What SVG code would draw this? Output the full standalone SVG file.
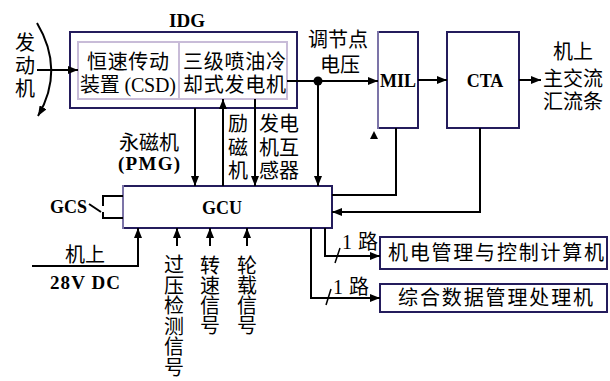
<svg xmlns="http://www.w3.org/2000/svg" width="610" height="381" viewBox="0 0 610 381">
<style>
.box{fill:#fff;stroke:#241c5c;stroke-width:2}
.inner{fill:none;stroke:#c8bcd8;stroke-width:2}
.ln{fill:none;stroke:#000;stroke-width:2}
.cj{font-family:"Liberation Serif","Noto Sans CJK SC",serif;font-size:20px;fill:#000}
.lt{font-family:"Liberation Serif",serif;font-size:18px;font-weight:bold;fill:#000}
.mid{text-anchor:middle}
</style>
<defs>
<marker id="ah" viewBox="0 0 10 8" refX="10" refY="4" markerWidth="10" markerHeight="8" markerUnits="userSpaceOnUse" orient="auto">
<path d="M0,0 L10,4 L0,8 Z" fill="#000"/>
</marker>
</defs>

<g id="IDG">
<rect class="box" x="70" y="32" width="227" height="76"/>
<rect class="inner" x="78" y="42" width="209" height="57"/>
<line x1="179" y1="42" x2="179" y2="99" stroke="#c8bcd8" stroke-width="2"/>
<text class="lt mid" x="187" y="27" style="font-size:19px">IDG</text>
<text class="cj" x="87" y="69" textLength="82">恒速传动</text>
<text class="cj" x="80" y="92" textLength="96">装置 (CSD)</text>
<text class="cj" x="183" y="69" textLength="103">三级喷油冷</text>
<text class="cj" x="183" y="92" textLength="103">却式发电机</text>
</g>

<g id="MIL">
<rect class="box" x="378" y="32" width="40" height="96"/>
<line x1="378" y1="31" x2="378" y2="129" stroke="#7c74a8" stroke-width="2"/>
<text class="lt mid" x="398" y="87">MIL</text>
</g>

<g id="CTA">
<rect class="box" x="447" y="32" width="72" height="96"/>
<text class="lt mid" x="485" y="87">CTA</text>
</g>

<g id="GCU">
<rect class="box" x="123" y="186" width="209" height="42"/>
<line x1="123" y1="185" x2="123" y2="229" stroke="#7c74a8" stroke-width="2"/>
<text class="lt mid" x="222" y="214">GCU</text>
</g>

<g id="EMCC">
<rect class="box" x="380" y="237" width="227" height="32"/>
<text class="cj" x="388" y="260" textLength="216">机电管理与控制计算机</text>
</g>

<g id="IDMP">
<rect class="box" x="380" y="284" width="227" height="28"/>
<text class="cj" x="398" y="305" textLength="195">综合数据管理处理机</text>
</g>

<g id="labels">
<text class="cj mid" x="25" y="50">发</text>
<text class="cj mid" x="25" y="73">动</text>
<text class="cj mid" x="25" y="96">机</text>
<text class="cj mid" x="338" y="47">调节点</text>
<text class="cj mid" x="340" y="72">电压</text>
<text class="cj mid" x="573" y="59">机上</text>
<text class="cj mid" x="573" y="86">主交流</text>
<text class="cj mid" x="573" y="109">汇流条</text>
<text class="cj mid" x="149" y="150">永磁机</text>
<text class="lt" x="118" y="170" textLength="62" style="font-size:19px">(PMG)</text>
<text class="cj mid" x="238" y="131">励</text>
<text class="cj mid" x="238" y="155">磁</text>
<text class="cj mid" x="238" y="178">机</text>
<text class="cj mid" x="279" y="131">发电</text>
<text class="cj mid" x="279" y="155">机互</text>
<text class="cj mid" x="279" y="178">感器</text>
<text class="lt" x="50" y="213" textLength="37">GCS</text>
<text class="cj mid" x="85" y="262">机上</text>
<text class="lt" x="50" y="289" textLength="70" style="font-size:19px">28V DC</text>
<text class="cj mid" x="174" y="272">过</text>
<text class="cj mid" x="174" y="293">压</text>
<text class="cj mid" x="174" y="313">检</text>
<text class="cj mid" x="174" y="334">测</text>
<text class="cj mid" x="174" y="354">信</text>
<text class="cj mid" x="174" y="375">号</text>
<text class="cj mid" x="210" y="273">转</text>
<text class="cj mid" x="210" y="293">速</text>
<text class="cj mid" x="210" y="313">信</text>
<text class="cj mid" x="210" y="333">号</text>
<text class="cj mid" x="247" y="273">轮</text>
<text class="cj mid" x="247" y="293">载</text>
<text class="cj mid" x="247" y="313">信</text>
<text class="cj mid" x="247" y="333">号</text>
<text class="cj" x="342" y="249" textLength="36">1 路</text>
<text class="cj" x="333" y="294" textLength="36">1 路</text>
</g>

<g id="connectors">
<path class="ln" d="M37,23 Q65,70 38,116" stroke-width="1.5" marker-end="url(#ah)"/>
<line class="ln" x1="37" y1="70" x2="78" y2="70" marker-end="url(#ah)"/>
<line class="ln" x1="287" y1="81" x2="378" y2="81" stroke-width="1.5" marker-end="url(#ah)"/>
<circle cx="318" cy="81" r="4.5" fill="#000"/>
<line class="ln" x1="418" y1="80" x2="447" y2="80" stroke-width="1.5" marker-end="url(#ah)"/>
<line class="ln" x1="519" y1="80" x2="541" y2="80" stroke-width="1.5" marker-end="url(#ah)"/>
<line class="ln" x1="318" y1="81" x2="318" y2="186" marker-end="url(#ah)"/>
<line class="ln" x1="195" y1="108" x2="195" y2="186" marker-end="url(#ah)"/>
<line class="ln" x1="223" y1="186" x2="223" y2="99" marker-end="url(#ah)"/>
<line class="ln" x1="255" y1="99" x2="255" y2="186" marker-end="url(#ah)"/>
<path class="ln" d="M396,128 V195 H332"/>
<path d="M374,131 L378,139 L370,139 Z" fill="#000"/>
<path class="ln" d="M480,128 V212 H332" stroke="#555" marker-end="url(#ah)"/>
<line x1="480" y1="212" x2="342" y2="212" stroke="#000" stroke-width="2"/>
<path class="ln" d="M32,266 H138 V228" marker-end="url(#ah)"/>
<line class="ln" x1="177" y1="246" x2="177" y2="228" marker-end="url(#ah)"/>
<line class="ln" x1="210" y1="246" x2="210" y2="228" marker-end="url(#ah)"/>
<line class="ln" x1="247" y1="246" x2="247" y2="228" marker-end="url(#ah)"/>
<path class="ln" d="M325,228 V256 H380" marker-end="url(#ah)"/>
<path class="ln" d="M311,228 V298 H380" marker-end="url(#ah)"/>
<line x1="335" y1="263" x2="340" y2="248" stroke="#000" stroke-width="1.5"/>
<line x1="326" y1="305" x2="331" y2="289" stroke="#000" stroke-width="1.5"/>
<path class="ln" d="M123,196 H103 V206 M89,204 L101,212 M103,212 V218 H123" stroke-width="1.5"/>
</g>
</svg>
